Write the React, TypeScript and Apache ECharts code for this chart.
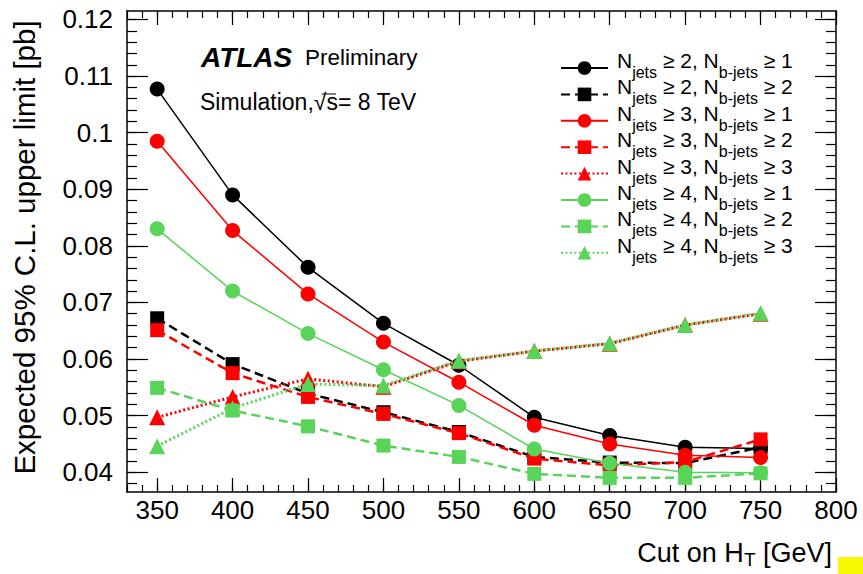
import React, { useEffect, useRef } from "react";
import * as echarts from "echarts";

// ---- data ----
const HT = [350, 400, 450, 500, 550, 600, 650, 700, 750];
const nj2nb1 = [0.1077, 0.089, 0.0762, 0.0663, 0.0589, 0.0497, 0.0465, 0.0444, 0.0442];
const nj2nb2 = [0.0672, 0.0591, 0.0539, 0.0506, 0.0471, 0.0427, 0.0417, 0.0416, 0.0444];
const nj3nb1 = [0.0985, 0.0827, 0.0715, 0.063, 0.0559, 0.0483, 0.045, 0.043, 0.0426];
const nj3nb2 = [0.0651, 0.0575, 0.0533, 0.0503, 0.0469, 0.0424, 0.0412, 0.0418, 0.0458];
const nj3nb3 = [0.0497, 0.0533, 0.0565, 0.0551, 0.0596, 0.0614, 0.0627, 0.066, 0.068];
const nj4nb1 = [0.083, 0.072, 0.0645, 0.0581, 0.0518, 0.0441, 0.0416, 0.04, 0.0399];
const nj4nb2 = [0.0549, 0.0509, 0.0481, 0.0447, 0.0427, 0.0397, 0.039, 0.039, 0.0398];
const nj4nb3 = [0.0446, 0.0513, 0.0556, 0.0553, 0.0597, 0.0614, 0.0628, 0.066, 0.0681];

const NJETS = ["2", "2", "3", "3", "3", "4", "4", "4"];
const NBJETS = ["1", "2", "1", "2", "3", "1", "2", "3"];
const VALUES = [nj2nb1, nj2nb2, nj3nb1, nj3nb2, nj3nb3, nj4nb1, nj4nb2, nj4nb3];

const X_MAJOR = [350, 400, 450, 500, 550, 600, 650, 700, 750, 800];
const X_MINOR = [330, 340, 350, 360, 370, 380, 390, 400, 410, 420, 430, 440, 450, 460, 470, 480, 490, 500, 510, 520, 530, 540, 550, 560, 570, 580, 590, 600, 610, 620, 630, 640, 650, 660, 670, 680, 690, 700, 710, 720, 730, 740, 750, 760, 770, 780, 790, 800];
const Y_MAJOR = [0.04, 0.05, 0.06, 0.07, 0.08, 0.09, 0.1, 0.11, 0.12];
const Y_MINOR = [0.038, 0.04, 0.042, 0.044, 0.046, 0.048, 0.05, 0.052, 0.054, 0.056, 0.058, 0.06, 0.062, 0.064, 0.066, 0.068, 0.07, 0.072, 0.074, 0.076, 0.078, 0.08, 0.082, 0.084, 0.086, 0.088, 0.09, 0.092, 0.094, 0.096, 0.098, 0.1, 0.102, 0.104, 0.106, 0.108, 0.11, 0.112, 0.114, 0.116, 0.118, 0.12];

const X_MIN = 330;
const X_MAX = 800;
const Y_MIN = 0.0365;
const Y_MAX = 0.1215;

// ---- styles ----
const FONT = "'Liberation Sans', Arial, Helvetica, sans-serif";
const BLACK = "#000000";
const RED = "#ff0000";
const GREEN = "#58d458";
const COLORS = [BLACK, BLACK, RED, RED, RED, GREEN, GREEN, GREEN];
const SYMBOLS = ["circle", "rect", "circle", "rect", "triangle", "circle", "rect", "triangle"];
const SYMBOL_SIZES = [15, 14, 15, 14, 16, 15, 14, 16];
const LINE_KINDS = ["solid", "dashed", "solid", "dashed", "dotted", "solid", "dashed", "dotted"];

function lineStyleFor(kind: string, color: string) {
  if (kind === "solid") return { color, width: 1.5, type: "solid" as any };
  if (kind === "dashed") return { color, width: 2.5, type: [9, 5] as any };
  return { color, width: 3, type: [2, 2.5] as any };
}

function seriesName(i: number) {
  return `Njets ≥ ${NJETS[i]}, Nb-jets ≥ ${NBJETS[i]}`;
}

export default function App() {
  const ref = useRef<HTMLDivElement>(null);

  useEffect(() => {
    if (!ref.current) return;
    const chart = echarts.init(ref.current, undefined, { renderer: "svg" });

    const names = VALUES.map((_, i) => seriesName(i));
    const richMap: Record<string, string> = {};
    names.forEach((n, i) => {
      richMap[n] = `{f|N}{s|jets}{m| ≥ ${NJETS[i]}, N}{s|b-jets}{m| ≥ ${NBJETS[i]}}`;
    });

    const series = VALUES.map((vals, i) => ({
      name: names[i],
      type: "line",
      xAxisIndex: 0,
      yAxisIndex: 0,
      data: HT.map((x, k) => [x, vals[k]]),
      symbol: SYMBOLS[i],
      symbolSize: SYMBOL_SIZES[i],
      showAllSymbol: true,
      itemStyle: { color: COLORS[i], borderWidth: 0 },
      lineStyle: lineStyleFor(LINE_KINDS[i], COLORS[i]),
      emphasis: { disabled: true },
      z: 3 + i * 0.01,
    }));

    const axisColor = "#000";
    const baseX = {
      type: "value",
      min: X_MIN,
      max: X_MAX,
      splitLine: { show: false },
    };
    const baseY = {
      type: "value",
      min: Y_MIN,
      max: Y_MAX,
      splitLine: { show: false },
    };

    const option: any = {
      animation: false,
      backgroundColor: "#ffffff",
      grid: { left: 127, right: 27, top: 11, bottom: 82, containLabel: false },
      xAxis: [
        {
          ...baseX,
          position: "bottom",
          name: "{a|Cut on H}{s|T}{a| [GeV]}",
          nameLocation: "end",
          nameGap: -4,
          nameTextStyle: {
            align: "right",
            verticalAlign: "top",
            padding: [44, 0, 0, 0],
            rich: {
              a: { fontSize: 27, fontFamily: FONT, color: "#000" },
              s: { fontSize: 19, fontFamily: FONT, color: "#000", padding: [14, 0, 0, 0] },
            },
          },
          axisLine: { show: true, onZero: false, lineStyle: { color: axisColor, width: 1.5 } },
          axisTick: { show: true, inside: true, length: 14, customValues: X_MAJOR, lineStyle: { color: axisColor, width: 1.2 } },
          axisLabel: {
            show: true,
            customValues: X_MAJOR,
            margin: 5,
            fontSize: 26,
            fontFamily: FONT,
            color: "#000",
            formatter: (v: number) => String(v),
          },
        },
        {
          ...baseX,
          position: "bottom",
          axisLine: { show: false },
          axisTick: { show: true, inside: true, length: 7, customValues: X_MINOR, lineStyle: { color: axisColor, width: 1.2 } },
          axisLabel: { show: false },
        },
        {
          ...baseX,
          position: "top",
          axisLine: { show: true, onZero: false, lineStyle: { color: axisColor, width: 1.5 } },
          axisTick: { show: true, inside: true, length: 14, customValues: X_MAJOR, lineStyle: { color: axisColor, width: 1.2 } },
          axisLabel: { show: false },
        },
        {
          ...baseX,
          position: "top",
          axisLine: { show: false },
          axisTick: { show: true, inside: true, length: 7, customValues: X_MINOR, lineStyle: { color: axisColor, width: 1.2 } },
          axisLabel: { show: false },
        },
      ],
      yAxis: [
        {
          ...baseY,
          position: "left",
          name: "Expected 95% C.L. upper limit [pb]",
          nameLocation: "middle",
          nameGap: 88,
          nameTextStyle: { fontSize: 29.5, fontFamily: FONT, color: "#000", padding: [0, 0, 0, 8] },
          axisLine: { show: true, onZero: false, lineStyle: { color: axisColor, width: 1.5 } },
          axisTick: { show: true, inside: true, length: 21, customValues: Y_MAJOR, lineStyle: { color: axisColor, width: 1.2 } },
          axisLabel: {
            show: true,
            customValues: Y_MAJOR,
            margin: 14,
            fontSize: 26,
            fontFamily: FONT,
            color: "#000",
            formatter: (v: number) => String(v),
          },
        },
        {
          ...baseY,
          position: "left",
          axisLine: { show: false },
          axisTick: { show: true, inside: true, length: 10, customValues: Y_MINOR, lineStyle: { color: axisColor, width: 1.2 } },
          axisLabel: { show: false },
        },
        {
          ...baseY,
          position: "right",
          axisLine: { show: true, onZero: false, lineStyle: { color: axisColor, width: 1.5 } },
          axisTick: { show: true, inside: true, length: 21, customValues: Y_MAJOR, lineStyle: { color: axisColor, width: 1.2 } },
          axisLabel: { show: false },
        },
        {
          ...baseY,
          position: "right",
          axisLine: { show: false },
          axisTick: { show: true, inside: true, length: 10, customValues: Y_MINOR, lineStyle: { color: axisColor, width: 1.2 } },
          axisLabel: { show: false },
        },
      ],
      legend: {
        orient: "vertical",
        left: 560,
        top: 50,
        padding: 0,
        itemGap: -4.1,
        itemWidth: 47,
        itemHeight: 17,
        selectedMode: false,
        data: names,
        formatter: (name: string) => richMap[name] || name,
        textStyle: {
          color: "#000",
          fontFamily: FONT,
          rich: {
            f: { fontSize: 21, fontFamily: FONT, color: "#000", height: 4, lineHeight: 4, verticalAlign: "top", padding: [0, 0, 0, 4] },
            m: { fontSize: 21, fontFamily: FONT, color: "#000", height: 4, lineHeight: 4, verticalAlign: "top" },
            s: { fontSize: 16, fontFamily: FONT, color: "#000", height: 4, lineHeight: 19, padding: [12, 0, 3, 0] },
          },
        },
      },
      graphic: [
        {
          type: "text",
          left: 201,
          top: 43,
          style: { text: "ATLAS", font: `italic bold 28px ${FONT}`, fill: "#000" },
        },
        {
          type: "text",
          left: 305,
          top: 46,
          style: { text: "Preliminary", font: `22.5px ${FONT}`, fill: "#000" },
        },
        {
          type: "text",
          left: 200,
          top: 90,
          style: { text: "Simulation,√s= 8 TeV", font: `23px ${FONT}`, fill: "#000" },
        },
        {
          type: "line",
          shape: { x1: 322, y1: 94, x2: 336, y2: 94 },
          style: { stroke: "#000", lineWidth: 1 },
        },
        {
          type: "rect",
          shape: { x: 838, y: 557, width: 25, height: 17 },
          style: { fill: "#f7f700" },
        },
      ],
      series,
    };

    chart.setOption(option);
    return () => chart.dispose();
  }, []);

  return (
    <div
      ref={ref}
      style={{ position: "fixed", left: 0, top: 0, width: 863, height: 574, background: "#fff" }}
    />
  );
}
